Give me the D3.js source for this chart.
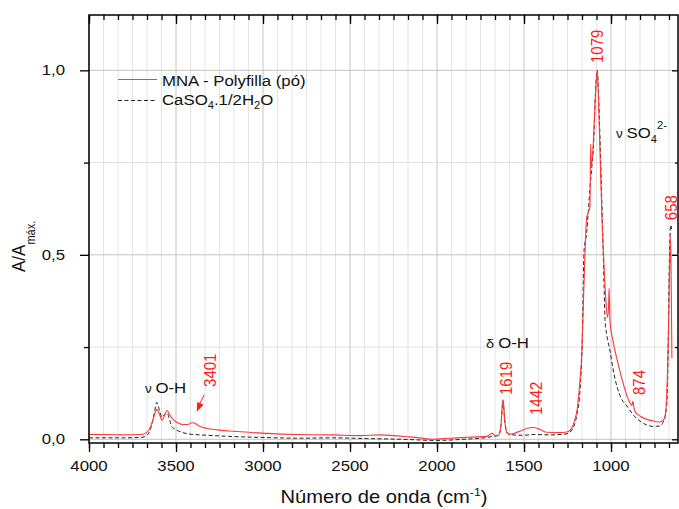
<!DOCTYPE html>
<html>
<head>
<meta charset="utf-8">
<script src="https://cdn.jsdelivr.net/npm/d3@7"></script>
<style>
  body { margin: 0; background: #fff; }
  svg text { font-family: 'Liberation Sans', Arial, sans-serif; }
</style>
</head>
<body>
<script>
// MNA - Polyfilla (pó) spectrum
var mnaWave = [4000,3900,3800,3700,3670,3645,3625,3610,3595,3580,3565,3552,3535,3517,3490,3460,3430,3410,3395,3370,3345,3300,3250,3172,3080,2977,2800,2600,2440,2328,2250,2172,2100,2023,1950,1885,1800,1713,1684,1665,1645,1632,1621,1610,1600,1585,1560,1523,1480,1448,1410,1368,1300,1253,1224,1210,1195,1180,1167,1158,1149,1140,1130,1121,1117,1113,1100,1090,1079,1072,1062,1052,1040,1030,1020,1014,1011,1006,990,965,935,908,890,880,874,868,862,830,793,750,720,700,690,680,672,665,661,658,654,650];
var mnaAbs  = [0.013,0.013,0.012,0.013,0.018,0.035,0.065,0.081,0.068,0.052,0.065,0.078,0.066,0.054,0.045,0.040,0.040,0.045,0.044,0.037,0.032,0.028,0.025,0.022,0.019,0.016,0.013,0.012,0.010,0.012,0.010,0.007,0.004,0.000,0.002,0.004,0.006,0.008,0.016,0.010,0.012,0.040,0.108,0.050,0.020,0.013,0.016,0.022,0.030,0.032,0.027,0.019,0.018,0.020,0.032,0.050,0.080,0.150,0.243,0.380,0.510,0.600,0.615,0.630,0.800,0.740,0.820,0.930,1.000,0.920,0.760,0.600,0.470,0.380,0.330,0.360,0.410,0.320,0.270,0.216,0.160,0.117,0.098,0.092,0.103,0.085,0.075,0.062,0.054,0.049,0.047,0.052,0.060,0.120,0.240,0.420,0.510,0.550,0.420,0.220];

// CaSO4.1/2H2O reference spectrum
var casoWave = [4000,3800,3700,3670,3645,3625,3610,3595,3580,3565,3552,3535,3525,3500,3460,3400,3362,3200,3000,2787,2600,2400,2200,2000,1850,1713,1680,1645,1632,1621,1610,1598,1563,1500,1442,1350,1253,1213,1195,1178,1165,1155,1140,1130,1121,1110,1100,1090,1079,1072,1063,1050,1040,1034,1023,1006,990,966,940,908,870,833,800,759,720,701,690,678,670,665,660,658,655,652];
var casoAbs  = [0.004,0.004,0.005,0.010,0.030,0.070,0.100,0.078,0.060,0.068,0.072,0.050,0.035,0.026,0.018,0.013,0.012,0.008,0.005,0.003,0.004,0.002,0.000,-0.003,0.000,0.005,0.008,0.010,0.040,0.105,0.045,0.018,0.012,0.011,0.013,0.012,0.015,0.036,0.070,0.135,0.270,0.510,0.560,0.620,0.680,0.740,0.800,0.930,1.000,0.940,0.810,0.600,0.420,0.320,0.280,0.240,0.195,0.143,0.110,0.090,0.065,0.049,0.040,0.035,0.036,0.046,0.060,0.108,0.300,0.470,0.560,0.580,0.580,0.570];

var xTicks = [4000, 3500, 3000, 2500, 2000, 1500, 1000];
var xTickLabels = ["4000", "3500", "3000", "2500", "2000", "1500", "1000"];
var yTicks = [0, 0.5, 1.0];
var yTickLabels = ["0,0", "0,5", "1,0"];
var yMinor = [0.25, 0.75];

var peakLabels = [
  {t: "3401", v: 3401, a: 0.142, dx: 23},
  {t: "1619", v: 1619, a: 0.120, dx: 9},
  {t: "1442", v: 1442, a: 0.066, dx: 8},
  {t: "1079", v: 1079, a: 1.020, dx: 6},
  {t: "874",  v: 874,  a: 0.120, dx: 12},
  {t: "658",  v: 658,  a: 0.594, dx: 6}
];

var W = 679, H = 509,
    pLeft = 89, pRight = 678, pTop = 15, pBottom = 443,
    SX = 1.12; // text in the picture is a bit wider than tall

var svg = d3.select("body").append("svg")
    .attr("width", W).attr("height", H);

var x = d3.scaleLinear().domain([4000, 615]).range([pLeft, pRight]);
var y = d3.scaleLinear().domain([-0.01, 1.15]).range([pBottom, pTop]);

// minor x ticks: 5 between each pair of majors
var xMinor = [];
for (var v = 4000; v > 615; v -= 500 / 6) xMinor.push(v);

function stext(px, py, size, color, rot) {
  return svg.append("text")
    .attr("transform", "translate(" + px + "," + py + ") scale(" + SX + ",1)" + (rot ? " rotate(-90)" : ""))
    .attr("font-size", size)
    .attr("fill", color);
}

function isMajor(d) {
  var r = Math.abs(4000 - d) % 500;
  return r < 1 || r > 499;
}

// grid
var grid = svg.append("g");
grid.selectAll(".vg").data(xMinor).enter().append("line")
    .attr("x1", d => x(d)).attr("x2", d => x(d))
    .attr("y1", pTop).attr("y2", pBottom)
    .attr("stroke", d => isMajor(d) ? "#c4c4c4" : "#e4e4e4")
    .attr("stroke-width", 1);
grid.selectAll(".hg").data(yTicks.concat(yMinor)).enter().append("line")
    .attr("x1", pLeft).attr("x2", pRight)
    .attr("y1", d => y(d)).attr("y2", d => y(d))
    .attr("stroke", d => yMinor.indexOf(d) >= 0 ? "#e0e0e0" : "#c4c4c4")
    .attr("stroke-width", 1);

// spectra
var line = d3.line()
    .x(d => x(d[0])).y(d => y(d[1]))
    .curve(d3.curveMonotoneX);

svg.append("path")
    .datum(casoWave.map((w, i) => [w, casoAbs[i]]))
    .attr("d", line)
    .attr("fill", "none")
    .attr("stroke", "#222")
    .attr("stroke-width", 1)
    .attr("stroke-dasharray", "4,2.5");

svg.append("path")
    .datum(mnaWave.map((w, i) => [w, mnaAbs[i]]))
    .attr("d", line)
    .attr("fill", "none")
    .attr("stroke", "#ff3838")
    .attr("stroke-width", 1.1);

// axes
function axisG(axis, tx, ty) {
  var g = svg.append("g").attr("transform", "translate(" + tx + "," + ty + ")").call(axis);
  g.select(".domain").remove();
  g.selectAll("text").remove();
  g.selectAll("line").attr("stroke", "#000").attr("stroke-width", 1.3);
  return g;
}
axisG(d3.axisBottom(x).tickValues(xTicks).tickSize(9), 0, pBottom);
axisG(d3.axisBottom(x).tickValues(xMinor).tickSize(5), 0, pBottom);
axisG(d3.axisBottom(x).tickValues(xTicks).tickSize(9), 0, pTop);
axisG(d3.axisBottom(x).tickValues(xMinor).tickSize(5), 0, pTop);
axisG(d3.axisLeft(y).tickValues(yTicks).tickSize(9), pLeft, 0);
axisG(d3.axisLeft(y).tickValues(yMinor).tickSize(5), pLeft, 0);
axisG(d3.axisLeft(y).tickValues(yTicks).tickSize(6), pRight, 0);
axisG(d3.axisLeft(y).tickValues(yMinor).tickSize(3), pRight, 0);

svg.append("rect")
    .attr("x", pLeft).attr("y", pTop)
    .attr("width", pRight - pLeft).attr("height", pBottom - pTop)
    .attr("fill", "none").attr("stroke", "#000").attr("stroke-width", 1.5);

// tick labels
xTicks.forEach(function(d, i) {
  stext(x(d), 471, 15, "#111").attr("text-anchor", "middle").text(xTickLabels[i]);
});
yTicks.forEach(function(d, i) {
  stext(65, y(d) + 5, 15, "#111").attr("text-anchor", "end").text(yTickLabels[i]);
});

// axis titles
var xt = stext(384, 503, 18, "#111").attr("text-anchor", "middle");
xt.append("tspan").text("Número de onda (cm");
xt.append("tspan").attr("font-size", 11).attr("dy", -7).text("-1");
xt.append("tspan").attr("dy", 7).text(")");

var yt = stext(25, 272, 17, "#111", true);
yt.append("tspan").text("A/A");
yt.append("tspan").attr("font-size", 11).attr("dy", 9).text("máx.");

// legend
svg.append("line").attr("x1", 118).attr("x2", 157).attr("y1", 79.5).attr("y2", 79.5)
    .attr("stroke", "#ff3838").attr("stroke-width", 1.1);
svg.append("line").attr("x1", 118).attr("x2", 155).attr("y1", 100.5).attr("y2", 100.5)
    .attr("stroke", "#222").attr("stroke-width", 1).attr("stroke-dasharray", "4,2.5");
stext(162, 86, 15, "#111").text("MNA - Polyfilla (pó)");
var lg = stext(162, 105, 15, "#111");
lg.append("tspan").text("CaSO");
lg.append("tspan").attr("font-size", 10).attr("dy", 4).text("4");
lg.append("tspan").attr("dy", -4).text(".1/2H");
lg.append("tspan").attr("font-size", 10).attr("dy", 4).text("2");
lg.append("tspan").attr("dy", -4).text("O");

// band annotations
var oh = stext(145, 393, 15, "#111");
oh.append("tspan").attr("font-size", 12).text("ν ");
oh.append("tspan").text("O-H");

var dh = stext(486, 348, 15, "#111");
dh.append("tspan").attr("font-size", 13).text("δ ");
dh.append("tspan").text("O-H");

var so = stext(616, 138, 15, "#111");
so.append("tspan").attr("font-size", 12).text("ν ");
so.append("tspan").text("SO");
so.append("tspan").attr("font-size", 10).attr("dy", 5).text("4");
so.append("tspan").attr("font-size", 10).attr("dy", -14).text("2-");

peakLabels.forEach(function(p) {
  stext(x(p.v) + p.dx, y(p.a), 15, "#ff1a1a", true).text(p.t);
});

// arrow to the 3401 shoulder
var ax0 = x(3401) + 11, ay0 = y(0.142) + 8, ax1 = x(3401) + 3.5, ay1 = y(0.075);
svg.append("line").attr("x1", ax0).attr("y1", ay0).attr("x2", ax1 + 2).attr("y2", ay1 - 6)
    .attr("stroke", "#ff1a1a").attr("stroke-width", 1);
var ang = Math.atan2(ay1 - ay0, ax1 - ax0);
var hl = 9, hw = 3.5;
var bx = ax1 - hl * Math.cos(ang), by = ay1 - hl * Math.sin(ang);
svg.append("path")
    .attr("d", "M" + ax1 + "," + ay1 +
               "L" + (bx + hw * Math.sin(ang)) + "," + (by - hw * Math.cos(ang)) +
               "L" + (bx - hw * Math.sin(ang)) + "," + (by + hw * Math.cos(ang)) + "Z")
    .attr("fill", "#ff1a1a");
</script>
</body>
</html>
